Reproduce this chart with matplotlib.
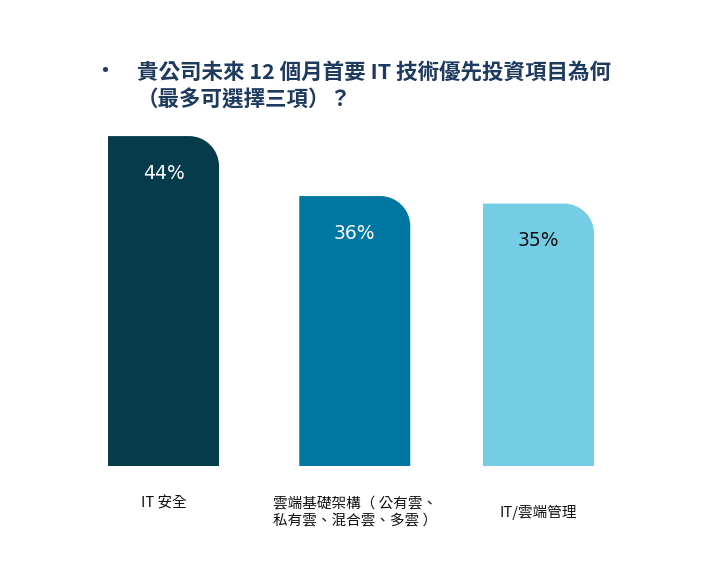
import matplotlib.pyplot as plt
from matplotlib.path import Path
from matplotlib.patches import PathPatch

categories = ["IT 安全", "雲端基礎架構（ 公有雲、\n私有雲、混合雲、多雲 ）", "IT/雲端管理"]
positions = [0, 1.02, 2]
values = [44, 36, 35]
value_labels = ["44%", "36%", "35%"]
bar_colors = ["#063b4c", "#0077a3", "#74cde4"]
label_colors = ["white", "white", "#111111"]
title_lines = ["貴公司未來 12 個月首要 IT 技術優先投資項目為何", "（最多可選擇三項）？"]

plt.rcParams['font.family'] = ['Noto Sans CJK TC', 'DejaVu Sans']

fig = plt.figure(figsize=(7.12, 5.68), dpi=100)
ax = fig.add_axes([0.098, 0.1796, 0.790, 0.660])
ax.set_xlim(-0.5, 2.5)
ax.set_ylim(0, 50)
ax.axis('off')

bar_width = 0.592
# corner radius in pixels -> data units
px_x = 0.790 * 712 / 3.0
px_y = 0.660 * 568 / 50.0
rx = 30 / px_x
ry = 30 / px_y
k = 0.5523

for i, (pos, val, color) in enumerate(zip(positions, values, bar_colors)):
    x0 = pos - bar_width / 2
    x1 = pos + bar_width / 2
    verts = [
        (x0, 0), (x0, val), (x1 - rx, val),
        (x1 - rx + k * rx, val), (x1, val - ry + k * ry), (x1, val - ry),
        (x1, 0), (x0, 0),
    ]
    codes = [Path.MOVETO, Path.LINETO, Path.LINETO,
             Path.CURVE4, Path.CURVE4, Path.CURVE4,
             Path.LINETO, Path.CLOSEPOLY]
    ax.add_patch(PathPatch(Path(verts, codes), facecolor=color, edgecolor='none'))
    ax.text(pos, val - 37 / px_y, value_labels[i], ha='center', va='center',
            fontsize=13.5, color=label_colors[i], family=['DejaVu Sans'])

label_y = [503, 512, 512]
for i, cat in enumerate(categories):
    fig.text((69.75 + (positions[i] + 0.5) * px_x) / 712, 1 - label_y[i] / 568, cat,
             ha='center', va='center', fontsize=10.5, color='#111111', linespacing=1.3)

fig.text(105 / 712, 1 - 72 / 568, "•", ha='center', va='center', fontsize=18, color='#1f3a5f')
fig.text(137 / 712, 1 - 72 / 568, title_lines[0], ha='left', va='center',
         fontsize=15.5, fontweight='bold', color='#1f3a5f')
fig.text(137 / 712, 1 - 100 / 568, title_lines[1], ha='left', va='center',
         fontsize=15.5, fontweight='bold', color='#1f3a5f')

fig.savefig('out.png', dpi=100)
